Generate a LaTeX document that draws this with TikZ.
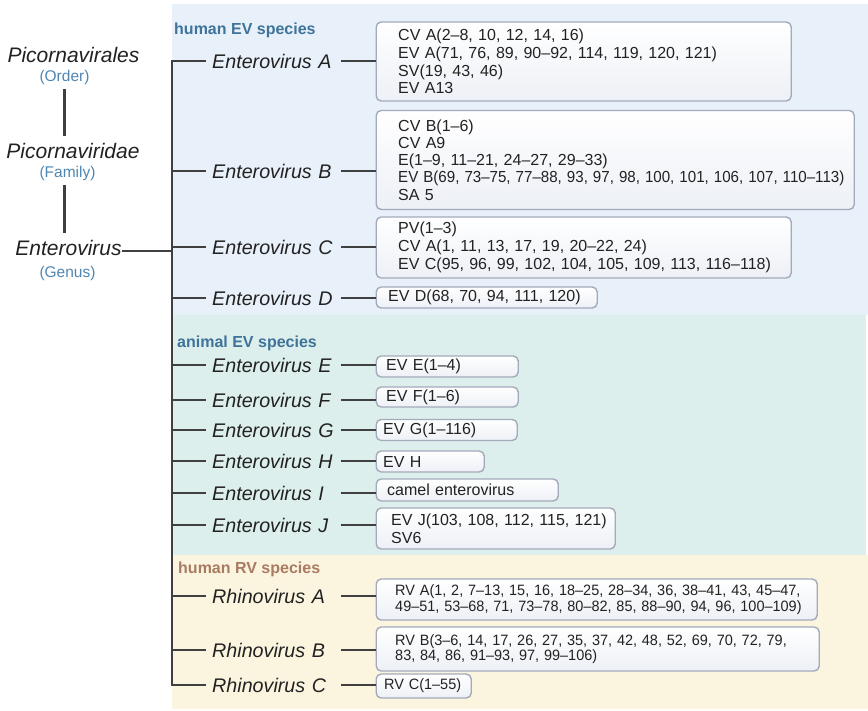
\documentclass[tikz,border=0pt]{standalone}
\usepackage{fontspec}
\usepackage{graphicx}
\setmainfont{Liberation Sans}
\usetikzlibrary{calc}
\definecolor{bgblue}{HTML}{E8F1F9}
\definecolor{bggreen}{HTML}{DDEFEC}
\definecolor{bgyellow}{HTML}{FBF5DF}
\definecolor{linec}{HTML}{404040}
\definecolor{boxline}{HTML}{A3AABB}
\definecolor{boxbot}{HTML}{EDF0F6}
\definecolor{rankc}{HTML}{4E86B2}
\definecolor{evlab}{HTML}{3F739A}
\definecolor{rvlab}{HTML}{A97B63}
\definecolor{textc}{HTML}{222222}
\newcommand\lin[1]{\mbox{#1}}
\newcommand\rvl[1]{\scalebox{0.965}[1]{#1}}
\newcommand\evfont{\fontsize{16}{17.8}\selectfont}
\newcommand\evfontB{\fontsize{16}{17.2}\selectfont}
\newcommand\rvfont{\fontsize{15}{15.6}\selectfont}
\begin{document}
\begin{tikzpicture}[x=1pt,y=-1pt,
  conn/.style={draw=linec, line width=2.1pt},
  taxon/.style={inner sep=0pt, anchor=base, font=\fontsize{21}{21}\selectfont\itshape, text=textc, text height=15.5pt, text depth=0pt},
  rank/.style={inner sep=0pt, anchor=base, font=\fontsize{15.5}{15.5}\selectfont, text=rankc, text height=11.3pt, text depth=3.3pt},
  species/.style={inner sep=0pt, anchor=west, font=\fontsize{19.7}{20}\selectfont\itshape, text=textc, text height=14.2pt, text depth=0pt, text width=129pt, align=left},
  grp/.style={inner sep=0pt, anchor=base west, font=\fontsize{16}{16}\selectfont\bfseries},
  vbox/.style={draw=boxline, line width=1.4pt, rounded corners=5pt, top color=white, bottom color=boxbot, anchor=west, align=left, inner ysep=0pt, text=textc, font=\evfont},
  rbox/.style={vbox, font=\rvfont},
]
\useasboundingbox (0,0) rectangle (868,710);
% backgrounds
\fill[bgblue] (172,4) rectangle (868,315);
\fill[bggreen] (172,315) rectangle (866,555);
\fill[bgyellow] (172,555) rectangle (868,709);

\coordinate (tt) at (172,0);

% left hierarchy
\node[taxon] (order) at (73.5,62) {Picornavirales};
\node[rank] (ordr) at (64.5,81) {(Order)};
\node[taxon] (family) at (73,158) {Picornaviridae};
\node[rank] (faml) at (67.5,177) {(Family)};
\node[taxon] (genus) at (68.5,255) {Enterovirus};
\node[rank] (genl) at (67.5,277) {(Genus)};

\draw[conn] ($(ordr.south)+(0,4)$) -- ($(ordr.south |- family.north)+(0,-6)$);
\draw[conn] ($(ordr.south |- faml.south)+(0,4)$) -- ($(ordr.south |- genus.north)+(0,-6)$);

% group labels
\node[grp, text=evlab] (hev) at (174,34) {human EV species};
\node[grp, text=evlab] (aev) at (177,347) {animal EV species};
\node[grp, text=rvlab] (hrv) at (178,573) {human RV species};

% species
\node[species] (sA) at (212,61) {Enterovirus A};
\node[species] (sB) at (212,171) {Enterovirus B};
\node[species] (sC) at (212,247) {Enterovirus C};
\node[species] (sD) at (212,298) {Enterovirus D};
\node[species] (sE) at (212,365) {Enterovirus E};
\node[species] (sF) at (212,400) {Enterovirus F};
\node[species] (sG) at (212,430) {Enterovirus G};
\node[species] (sH) at (212,461) {Enterovirus H};
\node[species] (sI) at (212,493) {Enterovirus I};
\node[species] (sJ) at (212,525) {Enterovirus J};
\node[species] (rA) at (212,596) {Rhinovirus A};
\node[species] (rB) at (212,650) {Rhinovirus B};
\node[species] (rC) at (212,685) {Rhinovirus C};

% boxes
\node[vbox, minimum width=415pt, minimum height=79pt, inner xsep=22pt, text width=371pt] (bA) at (375.5,61.5)
  {\lin{CV A(2–8, 10, 12, 14, 16)}\\ \lin{EV A(71, 76, 89, 90–92, 114, 119, 120, 121)}\\ \lin{SV(19, 43, 46)}\\ \lin{EV A13}};
\node[vbox, font=\evfontB, minimum width=478pt, minimum height=99pt, inner xsep=22pt, text width=434pt] (bB) at (375.5,160)
  {\lin{CV B(1–6)}\\ \lin{CV A9}\\ \lin{E(1–9, 11–21, 24–27, 29–33)}\\ \scalebox{0.944}[1]{EV B(69, 73–75, 77–88, 93, 97, 98, 100, 101, 106, 107, 110–113)}\\ \lin{SA 5}};
\node[vbox, minimum width=415pt, minimum height=61pt, inner xsep=22pt, text width=371pt] (bC) at (375.5,247.5)
  {\lin{PV(1–3)}\\ \lin{CV A(1, 11, 13, 17, 19, 20–22, 24)}\\ \lin{EV C(95, 96, 99, 102, 104, 105, 109, 113, 116–118)}};
\node[vbox, minimum width=221pt, minimum height=21pt, inner xsep=12pt, text width=197pt] (bD) at (375.5,297.5)
  {\lin{EV D(68, 70, 94, 111, 120)}};
\node[vbox, minimum width=142pt, minimum height=21pt, inner xsep=10pt, text width=122pt] (bE) at (375.5,366.5)
  {\lin{EV E(1–4)}};
\node[vbox, minimum width=142pt, minimum height=20pt, inner xsep=10pt, text width=122pt] (bF) at (375.5,397)
  {\lin{EV F(1–6)}};
\node[vbox, minimum width=141pt, minimum height=21pt, inner xsep=7pt, text width=127pt] (bG) at (375.5,430)
  {\lin{EV G(1–116)}};
\node[vbox, minimum width=108pt, minimum height=21pt, inner xsep=7pt, text width=94pt] (bH) at (375.5,461.5)
  {\lin{EV H}};
\node[vbox, minimum width=182pt, minimum height=22pt, inner xsep=11pt, text width=160pt] (bI) at (375.5,490)
  {\lin{camel enterovirus}};
\node[vbox, minimum width=239pt, minimum height=41pt, inner xsep=15pt, text width=209pt] (bJ) at (375.5,528.5)
  {\lin{EV J(103, 108, 112, 115, 121)}\\ \lin{SV6}};
\node[rbox, minimum width=441pt, minimum height=41pt, inner xsep=19pt, text width=403pt] (xA) at (375.5,599.5)
  {\rvl{RV A(1, 2, 7–13, 15, 16, 18–25, 28–34, 36, 38–41, 43, 45–47,}\\ \rvl{49–51, 53–68, 71, 73–78, 80–82, 85, 88–90, 94, 96, 100–109)}};
\node[rbox, minimum width=443pt, minimum height=44pt, inner xsep=19pt, text width=405pt] (xB) at (375.5,649)
  {\rvl{RV B(3–6, 14, 17, 26, 27, 35, 37, 42, 48, 52, 69, 70, 72, 79,}\\ \rvl{83, 84, 86, 91–93, 97, 99–106)}};
\node[rbox, minimum width=95pt, minimum height=24pt, inner xsep=8pt, text width=79pt] (xC) at (375.5,686)
  {\rvl{RV C(1–55)}};

% genus to trunk
\coordinate (gj) at ($(genus.south east)+(0,-4)$);
\draw[conn] (gj) -- (gj -| tt);

% trunk with first and last branch
\draw[conn, line join=miter] ([xshift=-6pt]sA.west) -- (sA.west -| tt) -- (rC.west -| tt) -- ([xshift=-6pt]rC.west);
\foreach \s in {sB,sC,sD,sE,sF,sG,sH,sI,sJ,rA,rB}
  \draw[conn] (\s.west -| tt) -- ([xshift=-6pt]\s.west);

% species to boxes
\draw[conn] (sA.east) -- (sA.east -| bA.west);
\draw[conn] (sB.east) -- (sB.east -| bB.west);
\draw[conn] (sC.east) -- (sC.east -| bC.west);
\draw[conn] (sD.east) -- (sD.east -| bD.west);
\draw[conn] (sE.east) -- (sE.east -| bE.west);
\draw[conn] (sF.east) -- (sF.east -| bF.west);
\draw[conn] (sG.east) -- (sG.east -| bG.west);
\draw[conn] (sH.east) -- (sH.east -| bH.west);
\draw[conn] (sI.east) -- (sI.east -| bI.west);
\draw[conn] (sJ.east) -- (sJ.east -| bJ.west);
\draw[conn] (rA.east) -- (rA.east -| xA.west);
\draw[conn] (rB.east) -- (rB.east -| xB.west);
\draw[conn] (rC.east) -- (rC.east -| xC.west);
\end{tikzpicture}
\end{document}
